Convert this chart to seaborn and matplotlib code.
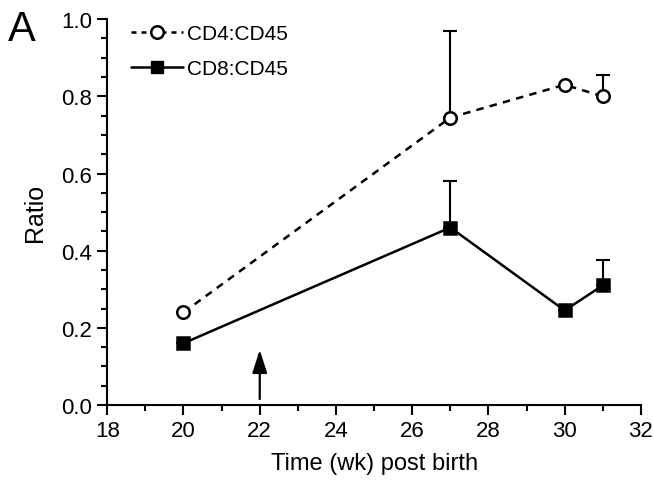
import numpy as np
import pandas as pd
import seaborn as sns
import matplotlib.pyplot as plt
from matplotlib.ticker import MultipleLocator

weeks = [20, 27, 30, 31]
cd4 = [0.24, 0.745, 0.83, 0.80]
cd4_err = [0.0, 0.225, 0.0, 0.055]
cd8 = [0.16, 0.46, 0.245, 0.31]
cd8_err = [0.0, 0.12, 0.0, 0.065]

sns.set_style("ticks")
plt.rcParams['font.family'] = ['Liberation Sans', 'DejaVu Sans']
plt.rcParams.update({"text.color": "black", "axes.labelcolor": "black",
                     "xtick.color": "black", "ytick.color": "black"})

df = pd.DataFrame({
    "week": weeks * 2,
    "ratio": cd4 + cd8,
    "series": ["CD4:CD45"] * 4 + ["CD8:CD45"] * 4,
})

fig = plt.figure(figsize=(6.54, 4.81), dpi=100)
ax = fig.add_axes([0.164, 0.156, 0.816, 0.802])

# error bars (upper only) drawn first so markers sit on top
ax.errorbar(weeks, cd4, yerr=[np.zeros(4), cd4_err], fmt="none", ecolor="black",
            elinewidth=1.5, capsize=5, capthick=1.5, zorder=2)
ax.errorbar(weeks, cd8, yerr=[np.zeros(4), cd8_err], fmt="none", ecolor="black",
            elinewidth=1.5, capsize=5, capthick=1.5, zorder=2)

sns.lineplot(data=df, x="week", y="ratio", style="series", markers=["o", "s"],
             dashes=[(3, 2.5), ""], color="black", linewidth=1.8, markersize=9,
             markerfacecolor="white", markeredgecolor="black", markeredgewidth=1.8,
             ax=ax, zorder=3, legend=False)
# fill the squares
for line in ax.lines:
    if line.get_marker() == "s":
        line.set_markerfacecolor("black")

ax.plot([], [], color="black", ls=(0, (2, 2)), lw=1.8, marker="o", ms=9,
        mfc="white", mec="black", mew=1.8, label="CD4:CD45")
ax.plot([], [], color="black", ls="-", lw=1.8, marker="s", ms=9,
        mfc="black", mec="black", label="CD8:CD45")
leg = ax.legend(loc="upper left", frameon=False, fontsize=15, handlelength=2.5,
                bbox_to_anchor=(0.01, 1.035), labelspacing=0.75, handletextpad=0.15)

# arrow at week 22
ax.annotate("", xy=(22, 0.15), xytext=(22, 0.008),
            arrowprops=dict(arrowstyle="-|>,head_length=1.4,head_width=0.45",
                            color="black", lw=1.6))

ax.set_xlim(18, 32)
ax.set_ylim(0, 1.0)
ax.xaxis.set_major_locator(MultipleLocator(2))
ax.xaxis.set_minor_locator(MultipleLocator(1))
ax.yaxis.set_major_locator(MultipleLocator(0.2))
ax.yaxis.set_minor_locator(MultipleLocator(0.05))
ax.yaxis.set_major_formatter(plt.FuncFormatter(lambda v, p: f"{v:.1f}"))
ax.tick_params(which="major", length=7, width=1.5, labelsize=16, direction="out", pad=4)
ax.tick_params(which="minor", length=4, width=1.5, direction="out")
for s in ["left", "bottom"]:
    ax.spines[s].set_linewidth(1.5)
    ax.spines[s].set_color("black")
sns.despine(ax=ax)
ax.set_xlabel("Time (wk) post birth", fontsize=17, labelpad=8)
ax.set_ylabel("Ratio", fontsize=18, labelpad=10)

fig.text(0.012, 0.915, "A", fontsize=30)

fig.savefig("out.png", dpi=100)
